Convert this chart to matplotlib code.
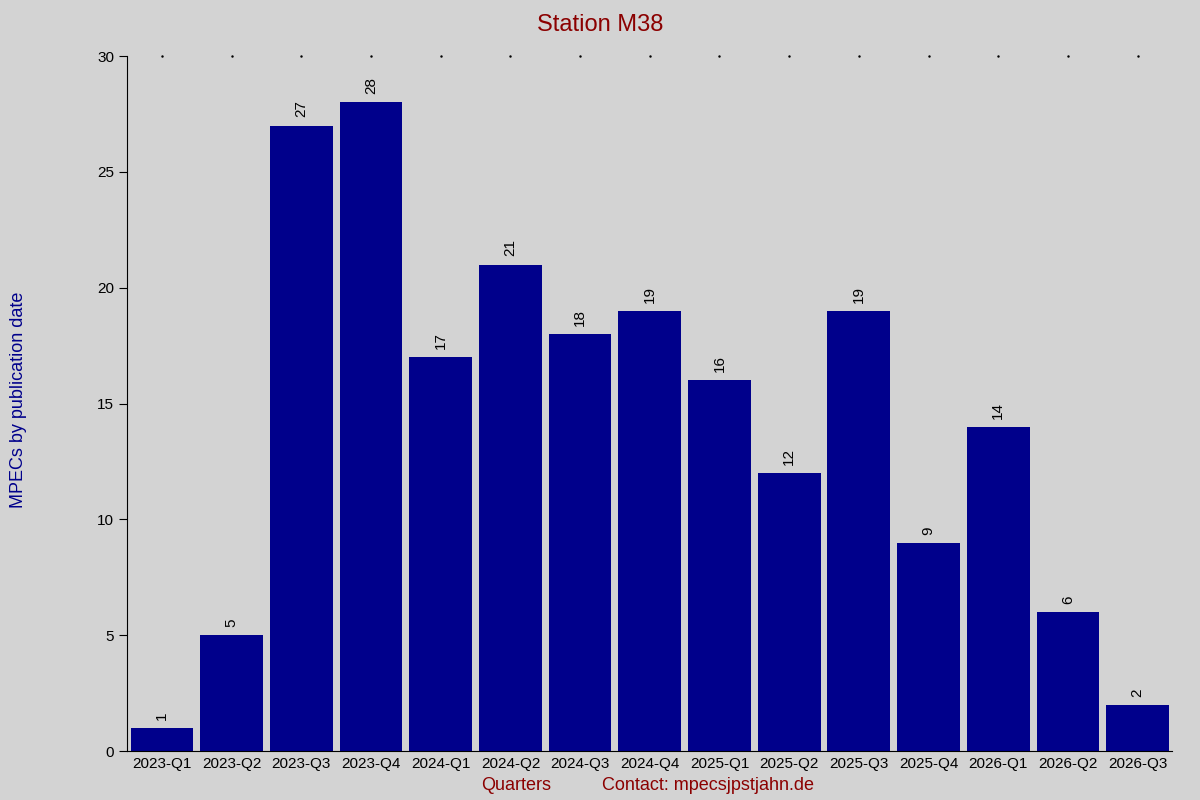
import matplotlib
matplotlib.use("Agg")
import matplotlib.pyplot as plt

categories = ["2023-Q1","2023-Q2","2023-Q3","2023-Q4","2024-Q1","2024-Q2","2024-Q3","2024-Q4",
              "2025-Q1","2025-Q2","2025-Q3","2025-Q4","2026-Q1","2026-Q2","2026-Q3"]
values = [1,5,27,28,17,21,18,19,16,12,19,9,14,6,2]

plt.rcParams['font.family'] = ['Liberation Sans', 'DejaVu Sans']
bg = '#d3d3d3'
fig = plt.figure(figsize=(12, 8), dpi=100, facecolor=bg)
ax = fig.add_axes([0.106, 0.061, 0.871, 0.869], facecolor=bg)
x = list(range(len(categories)))
ax.bar(x, values, width=0.9, color='#00008b')
for xi, v in zip(x, values):
    ax.text(xi, v + 0.35, str(v), rotation=90, ha='center', va='bottom', fontsize=11, color='black')
ax.set_xlim(-0.5, len(categories) - 0.5)
ax.set_ylim(0, 30)
ax.set_yticks([0, 5, 10, 15, 20, 25, 30])
ax.set_xticks(x)
ax.set_xticklabels(categories, fontsize=11)
ax.tick_params(axis='y', labelsize=11, direction='out', length=6)
ax.tick_params(axis='x', length=0, pad=4)
for s in ['top', 'right']:
    ax.spines[s].set_visible(False)
for xi in x:
    ax.plot([xi], [30], marker='.', markersize=1.5, color='black', clip_on=False)
fig.text(0.5, 0.982, "Station M38", ha='center', va='top', fontsize=17, color='#8b0000')
fig.text(0.008, 0.5, "MPECs by publication date", rotation=90, ha='left', va='center',
         fontsize=13, color='#00008b')
fig.text(0.401, 0.0175, "Quarters", ha='left', va='center', fontsize=13, color='#8b0000')
fig.text(0.502, 0.0175, "Contact: mpecsjpstjahn.de", ha='left', va='center', fontsize=13, color='#8b0000')
fig.savefig("out.png", dpi=100, facecolor=bg)
